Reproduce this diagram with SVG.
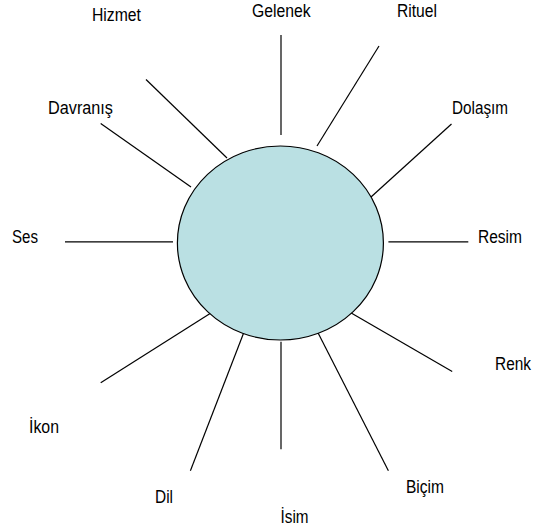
<svg xmlns="http://www.w3.org/2000/svg" width="535" height="529" viewBox="0 0 535 529">
<style>
.c{stroke:#000;stroke-width:1.2;fill:none}
.t{font-family:"Liberation Sans",Arial,sans-serif;font-size:17.5px;fill:#000}
</style>
<rect width="535" height="529" fill="#fff"/>
<g id="connectors">
<line class="c" x1="281" y1="35" x2="281" y2="135"/>
<line class="c" x1="379" y1="46" x2="317" y2="146"/>
<line class="c" x1="146" y1="79.5" x2="227" y2="158"/>
<line class="c" x1="100.7" y1="123.5" x2="191" y2="187"/>
<line class="c" x1="451.5" y1="124" x2="371" y2="197"/>
<line class="c" x1="65" y1="241.8" x2="173" y2="241.8"/>
<line class="c" x1="388.4" y1="241.8" x2="468.3" y2="241.8"/>
<line class="c" x1="218.4" y1="308.3" x2="100.7" y2="382.7"/>
<line class="c" x1="244.7" y1="330.2" x2="190.4" y2="470.7"/>
<line class="c" x1="281" y1="341.8" x2="281" y2="449.2"/>
<line class="c" x1="316.7" y1="330.2" x2="388.4" y2="470.7"/>
<line class="c" x1="343" y1="308.3" x2="452.2" y2="371.4"/>
</g>
<g id="center"><ellipse cx="280.4" cy="243" rx="103" ry="97" fill="#BAE0E3" stroke="#000" stroke-width="1.2"/></g>
<g id="hizmet"><text class="t" x="92" y="20.5" textLength="49" lengthAdjust="spacingAndGlyphs">Hizmet</text></g>
<g id="gelenek"><text class="t" x="252" y="17" textLength="58.7" lengthAdjust="spacingAndGlyphs">Gelenek</text></g>
<g id="rituel"><text class="t" x="397" y="17" textLength="40" lengthAdjust="spacingAndGlyphs">Rituel</text></g>
<g id="davranis"><text class="t" x="48" y="113.5" textLength="65" lengthAdjust="spacingAndGlyphs">Davranış</text></g>
<g id="dolasim"><text class="t" x="452" y="113.5" textLength="56" lengthAdjust="spacingAndGlyphs">Dolaşım</text></g>
<g id="ses"><text class="t" x="12" y="243" textLength="26" lengthAdjust="spacingAndGlyphs">Ses</text></g>
<g id="resim"><text class="t" x="478" y="243" textLength="44" lengthAdjust="spacingAndGlyphs">Resim</text></g>
<g id="renk"><text class="t" x="495" y="370" textLength="36" lengthAdjust="spacingAndGlyphs">Renk</text></g>
<g id="ikon"><text class="t" x="29" y="433" textLength="30" lengthAdjust="spacingAndGlyphs">İkon</text></g>
<g id="dil"><text class="t" x="155" y="503" textLength="18" lengthAdjust="spacingAndGlyphs">Dil</text></g>
<g id="bicim"><text class="t" x="406" y="493" textLength="38" lengthAdjust="spacingAndGlyphs">Biçim</text></g>
<g id="isim"><text class="t" x="280.5" y="523" textLength="28" lengthAdjust="spacingAndGlyphs">İsim</text></g>
</svg>
